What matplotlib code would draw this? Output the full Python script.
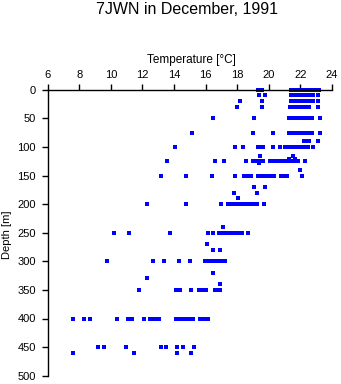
import matplotlib
matplotlib.use("Agg")
import matplotlib.pyplot as plt

plt.rcParams['font.family'] = ['Liberation Sans', 'DejaVu Sans']

# Depth levels [m] and temperatures [°C] observed at each level
depth_levels = [0, 10, 20, 30, 50, 75, 90, 100, 116, 121, 125, 128, 141, 150,
                170, 181, 190, 200, 240, 250, 270, 280, 300, 320, 330, 340,
                350, 400, 450, 460]

temps_by_level = [
    [19.3, 19.45, 19.55, 21.4, 21.5, 21.6, 21.7, 21.8, 21.9, 22.05, 22.15, 22.25, 22.35, 22.45, 22.55, 22.75, 22.85, 23.0, 23.1, 23.2],
    [19.37, 19.75, 21.4, 21.5, 21.6, 21.7, 21.8, 21.9, 22.05, 22.15, 22.25, 22.35, 22.45, 22.55, 22.78, 23.14],
    [18.17, 19.56, 21.4, 21.5, 21.6, 21.7, 21.8, 21.9, 22.05, 22.15, 22.25, 22.35, 22.45, 22.55, 22.78, 23.14],
    [17.98, 19.56, 21.33, 21.45, 21.55, 21.65, 21.75, 21.85, 22.0, 22.1, 22.2, 22.3, 22.4, 22.5, 22.57, 23.14],
    [16.46, 19.05, 21.26, 21.35, 21.45, 21.55, 21.65, 21.75, 21.85, 21.94, 22.06, 22.15, 22.25, 22.35, 22.45, 22.55, 22.65, 22.72, 23.27],
    [15.16, 18.99, 20.25, 21.26, 21.35, 21.45, 21.55, 21.65, 21.75, 21.88, 22.0, 22.1, 22.2, 22.3, 22.4, 22.5, 22.6, 22.72, 23.27],
    [22.2, 22.3, 22.4, 22.53, 23.14],
    [14.06, 17.85, 18.34, 19.3, 19.45, 19.62, 20.24, 20.72, 21.0, 21.1, 21.2, 21.3, 21.4, 21.5, 21.6, 21.7, 21.83, 22.0, 22.1, 22.2, 22.3, 22.46, 22.78],
    [19.47, 21.56],
    [21.26, 21.66],
    [13.55, 16.59, 17.16, 18.55, 18.99, 19.1, 19.2, 19.3, 19.45, 19.62, 20.1, 20.2, 20.3, 20.47, 20.57, 20.7, 20.8, 20.9, 21.0, 21.1, 21.2, 21.3, 21.4, 21.5, 21.6, 21.7, 21.83, 22.3],
    [19.35],
    [21.96],
    [13.18, 14.76, 16.4, 17.88, 18.42, 18.55, 18.7, 18.84, 19.3, 19.4, 19.5, 19.6, 19.7, 19.8, 19.9, 20.0, 20.1, 20.2, 20.3, 20.74, 20.93, 21.14, 22.09],
    [19.05, 19.75],
    [17.79, 19.24],
    [18.04],
    [12.29, 14.76, 16.95, 17.41, 17.55, 17.7, 17.83, 18.1, 18.2, 18.3, 18.4, 18.5, 18.6, 18.7, 18.8, 18.9, 19.0, 19.1, 19.22, 19.67],
    [17.08],
    [10.2, 11.15, 13.77, 16.15, 16.46, 16.84, 16.95, 17.05, 17.15, 17.25, 17.35, 17.45, 17.55, 17.65, 17.75, 17.85, 18.04, 18.29, 18.67],
    [16.08],
    [16.46, 16.88],
    [9.77, 12.67, 13.36, 14.29, 15.03, 15.94, 16.21, 16.35, 16.5, 16.65, 16.8, 16.95, 17.1, 17.24],
    [16.46],
    [12.29],
    [16.88],
    [11.79, 14.1, 14.25, 14.36, 15.08, 15.58, 15.7, 15.82, 15.95, 16.04, 16.57, 16.72, 16.88],
    [7.58, 8.29, 8.69, 10.4, 11.09, 11.22, 11.35, 12.08, 12.48, 12.65, 12.78, 12.9, 13.03, 14.1, 14.21, 14.33, 14.46, 14.61, 14.72, 14.82, 15.0, 15.1, 15.2, 15.62, 15.75, 15.94, 16.17],
    [9.18, 9.56, 10.98, 13.16, 13.47, 14.21, 14.57, 15.26],
    [7.58, 11.48, 14.21, 15.07],
]

x_ticks = [6, 8, 10, 12, 14, 16, 18, 20, 22, 24]
y_ticks = [0, 50, 100, 150, 200, 250, 300, 350, 400, 450, 500]

W, H = 341, 384
fig = plt.figure(figsize=(W / 100, H / 100), dpi=100)
ax = fig.add_axes([47.7 / W, 1 - 375.7 / H, (332 - 47.7) / W, (375.7 - 89.7) / H])

xs, ys = [], []
for d, ts in zip(depth_levels, temps_by_level):
    for t in ts:
        xs.append(t)
        ys.append(d)

ax.plot(xs, ys, linestyle='none', marker='s', markersize=2.5,
        markeredgewidth=0, color='#0000ff', clip_on=False)

ax.set_xlim(6, 24)
ax.set_ylim(500, 0)
ax.set_xticks(x_ticks)
ax.set_yticks(y_ticks)
ax.xaxis.tick_top()
ax.spines['right'].set_visible(False)
ax.spines['bottom'].set_visible(False)
for s in ('left', 'top'):
    ax.spines[s].set_linewidth(1.0)
    ax.spines[s].set_color('black')
ax.tick_params(axis='x', direction='out', length=4, width=1, pad=3, labelsize=8)
ax.tick_params(axis='y', direction='out', length=4.5, width=1, pad=4, labelsize=8)

fig.text(187.5 / W, 1 - 9 / H, '7JWN in December, 1991', ha='center', va='center', fontsize=11.5)
fig.text(191.5 / W, 1 - 59.5 / H, 'Temperature [°C]', ha='center', va='center', fontsize=8.5)
fig.text(7.5 / W, 1 - 235 / H, 'Depth [m]', ha='center', va='center', rotation=90, fontsize=8)

fig.savefig('out.png', dpi=100)
